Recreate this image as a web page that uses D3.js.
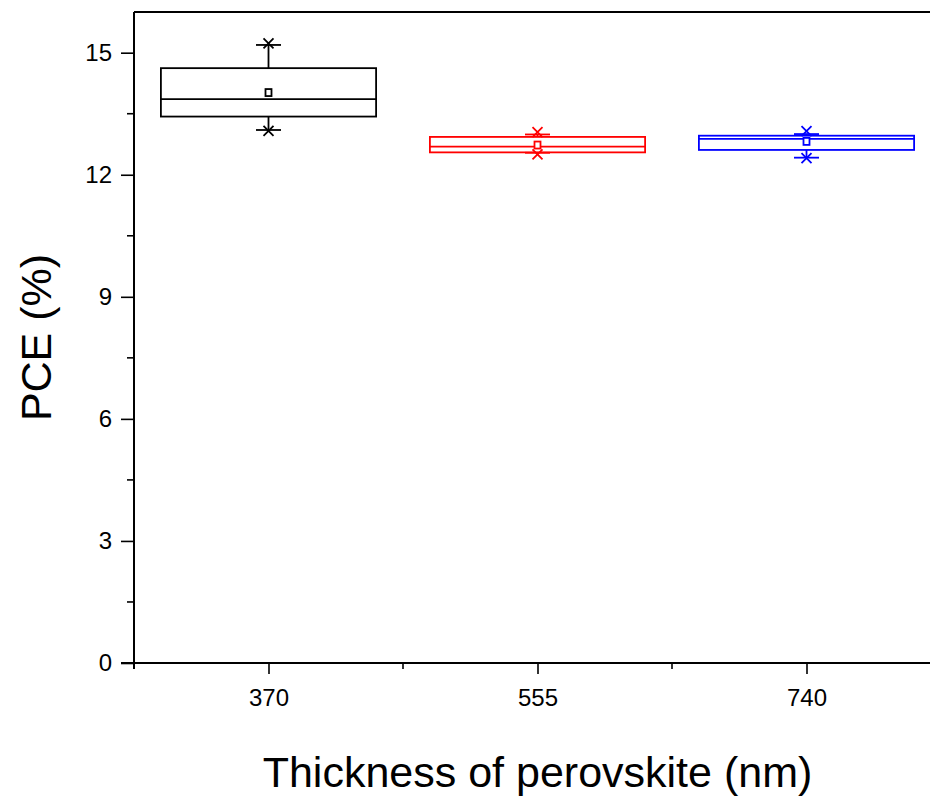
<!DOCTYPE html>
<html>
<head>
<meta charset="utf-8">
<script src="https://cdn.jsdelivr.net/npm/d3@7"></script>
<style>
  body { margin: 0; background: #fff; }
  svg { display: block; font-family: "Liberation Sans", Arial, sans-serif; }
</style>
</head>
<body>
<div id="chart"></div>
<script>
// box data (PCE %)
var categories = ["370", "555", "740"];
var colors = ["#000000", "#ff0000", "#0000ff"];
var boxLow = [13.43, 12.55, 12.61];
var boxMedian = [13.86, 12.69, 12.88];
var boxHigh = [14.62, 12.93, 12.96];
var boxMean = [14.02, 12.73, 12.82];
var whiskerLow = [13.10, 12.54, 12.42];
var whiskerHigh = [15.19, 12.99, 13.00];
var markMin = [13.08, 12.50, 12.41];
var markMax = [15.23, 13.05, 13.07];
var yTicks = [0, 3, 6, 9, 12, 15];

var W = 930, H = 796;

var svg = d3.select("#chart")
    .append("svg")
    .attr("width", W)
    .attr("height", H);

var x = d3.scaleLinear().domain([0.5, 3.5]).range([134, 941]);
var y = d3.scaleLinear().domain([0, 16]).range([663, 12]);

var boxW = 0.8 * (x(2) - x(1));
var capW = 25;

// y axis
var yAxis = svg.append("g")
    .attr("transform", "translate(" + x(0.5) + ",0)")
    .call(d3.axisLeft(y).tickValues(yTicks).tickSize(13).tickSizeOuter(0).tickPadding(9));
yAxis.select(".domain").remove();
yAxis.selectAll(".tick line").attr("stroke", "#000").attr("stroke-width", 1.6);
yAxis.selectAll(".tick text").attr("font-size", 24).attr("fill", "#000");
// minor y ticks
svg.append("g").selectAll("line")
    .data(d3.range(1.5, 16, 3))
    .join("line")
    .attr("x1", x(0.5) - 7).attr("x2", x(0.5))
    .attr("y1", function(d) { return y(d); }).attr("y2", function(d) { return y(d); })
    .attr("stroke", "#000").attr("stroke-width", 1.6);

// x axis
var xAxis = svg.append("g")
    .attr("transform", "translate(0," + y(0) + ")")
    .call(d3.axisBottom(x).tickValues([1, 2, 3])
        .tickFormat(function(d) { return categories[d - 1]; })
        .tickSize(11).tickSizeOuter(0).tickPadding(15));
xAxis.select(".domain").remove();
xAxis.selectAll(".tick line").attr("stroke", "#000").attr("stroke-width", 1.6);
xAxis.selectAll(".tick text").attr("font-size", 24).attr("fill", "#000");
// minor x ticks
svg.append("g").selectAll("line")
    .data([0.5, 1.5, 2.5])
    .join("line")
    .attr("x1", function(d) { return x(d); }).attr("x2", function(d) { return x(d); })
    .attr("y1", y(0)).attr("y2", y(0) + 6)
    .attr("stroke", "#000").attr("stroke-width", 1.6);

// frame lines
svg.append("line")
    .attr("x1", x(0.5) - 13).attr("x2", W)
    .attr("y1", y(0)).attr("y2", y(0))
    .attr("stroke", "#000").attr("stroke-width", 2);
svg.append("line")
    .attr("x1", x(0.5)).attr("x2", x(0.5))
    .attr("y1", y(16)).attr("y2", y(0) + 6)
    .attr("stroke", "#000").attr("stroke-width", 2);
svg.append("line")
    .attr("x1", x(0.5)).attr("x2", W)
    .attr("y1", y(16)).attr("y2", y(16))
    .attr("stroke", "#000").attr("stroke-width", 2);

// boxes
categories.forEach(function(c, i) {
    var cx = x(i + 1);
    var g = svg.append("g")
        .attr("stroke", colors[i])
        .attr("stroke-width", 1.8)
        .attr("fill", "none");

    // whiskers
    g.append("line")
        .attr("x1", cx).attr("x2", cx)
        .attr("y1", y(boxHigh[i])).attr("y2", y(whiskerHigh[i]));
    g.append("line")
        .attr("x1", cx).attr("x2", cx)
        .attr("y1", y(boxLow[i])).attr("y2", y(whiskerLow[i]));
    [whiskerHigh[i], whiskerLow[i]].forEach(function(v) {
        g.append("line")
            .attr("x1", cx - capW / 2).attr("x2", cx + capW / 2)
            .attr("y1", y(v)).attr("y2", y(v));
    });

    // box and median
    g.append("rect")
        .attr("x", cx - boxW / 2)
        .attr("y", y(boxHigh[i]))
        .attr("width", boxW)
        .attr("height", y(boxLow[i]) - y(boxHigh[i]));
    g.append("line")
        .attr("x1", cx - boxW / 2).attr("x2", cx + boxW / 2)
        .attr("y1", y(boxMedian[i])).attr("y2", y(boxMedian[i]));

    // mean square
    g.append("rect")
        .attr("x", cx - 3).attr("y", y(boxMean[i]) - 3.5)
        .attr("width", 6).attr("height", 7)
        .attr("fill", "#fff");

    // 1% / 99% crosses
    [markMax[i], markMin[i]].forEach(function(v) {
        var s = 5;
        g.append("path")
            .attr("d", "M" + (cx - s) + "," + (y(v) - s) + "L" + (cx + s) + "," + (y(v) + s) +
                       "M" + (cx - s) + "," + (y(v) + s) + "L" + (cx + s) + "," + (y(v) - s));
    });
});

// axis titles
svg.append("text")
    .attr("x", x(2))
    .attr("y", 787)
    .attr("text-anchor", "middle")
    .attr("font-size", 43)
    .attr("fill", "#000")
    .text("Thickness of perovskite (nm)");

svg.append("text")
    .attr("transform", "translate(51," + y(8.0) + ") rotate(-90)")
    .attr("text-anchor", "middle")
    .attr("font-size", 43)
    .attr("fill", "#000")
    .text("PCE (%)");
</script>
</body>
</html>
